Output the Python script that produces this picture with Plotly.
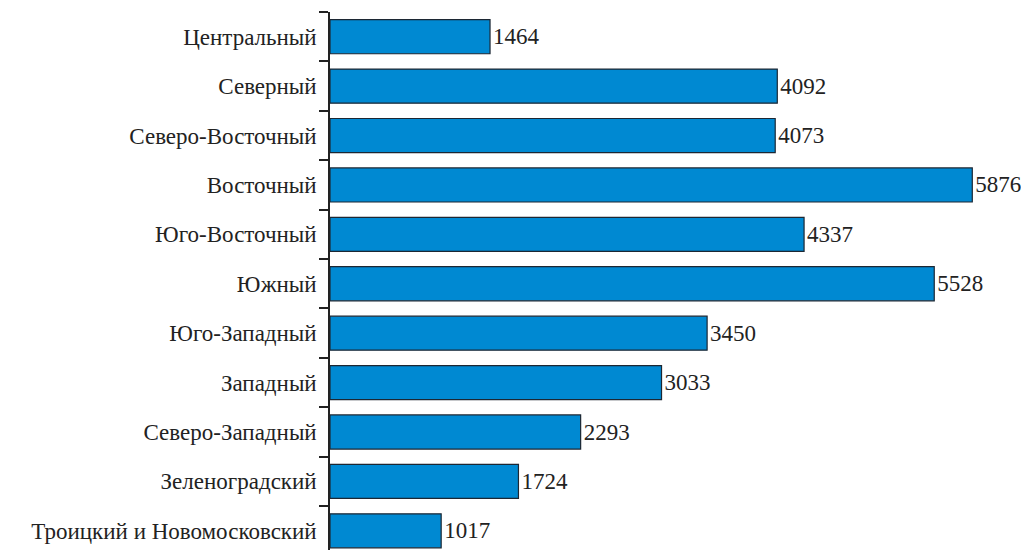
import plotly.graph_objects as go

districts = ["Центральный", "Северный", "Северо-Восточный", "Восточный", "Юго-Восточный",
             "Южный", "Юго-Западный", "Западный", "Северо-Западный", "Зеленоградский",
             "Троицкий и Новомосковский"]
values = [1464, 4092, 4073, 5876, 4337, 5528, 3450, 3033, 2293, 1724, 1017]

fig = go.Figure(go.Bar(
    y=districts, x=values, orientation="h",
    marker=dict(color="#0089D2", line=dict(color="#1c2733", width=1.2)),
    width=0.69,
    text=[str(v) for v in values], textposition="outside",
    textfont=dict(family="Liberation Serif", size=23, color="#222"),
    cliponaxis=False,
))

fig.update_layout(
    width=1029, height=550,
    margin=dict(l=322, r=0, t=4, b=0, autoexpand=False),
    plot_bgcolor="white", paper_bgcolor="white",
    showlegend=False,
    font=dict(family="Liberation Serif", size=23, color="#222"),
    xaxis=dict(range=[0, 6468], visible=False, showgrid=False, zeroline=False, automargin=False),
    yaxis=dict(autorange=False, range=[10.55, -0.5], categoryorder="array", categoryarray=districts,
               showline=True, linecolor="#222", linewidth=1.5, automargin=False,
               ticks="outside", ticklen=9, tickcolor="#222", tickwidth=1.5,
               tickson="boundaries", showgrid=False, ticklabelstandoff=7),
)

fig.write_html("out.html")
